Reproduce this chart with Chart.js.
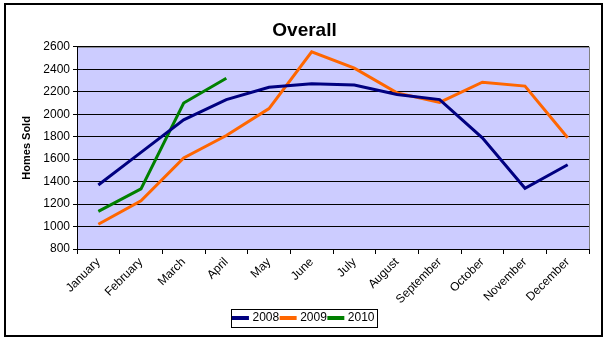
<!DOCTYPE html>
<html>
<head>
<meta charset="utf-8">
<script src="https://cdn.jsdelivr.net/npm/chart.js@4/dist/chart.umd.min.js"></script>
<style>
  html, body { margin: 0; padding: 0; background: #fff; }
  #wrap { position: relative; width: 607px; height: 340px; }
</style>
</head>
<body>
<div id="wrap"><canvas id="overallChart"></canvas></div>
<script>
// --- Data ---
const months = ['January', 'February', 'March', 'April', 'May', 'June',
                'July', 'August', 'September', 'October', 'November', 'December'];
const sold2008 = [1370, 1660, 1950, 2130, 2240, 2270, 2260, 2175, 2130, 1790, 1340, 1550];
const sold2009 = [1020, 1230, 1610, 1810, 2050, 2555, 2410, 2190, 2105, 2285, 2250, 1790];
const sold2010 = [1135, 1335, 2100, 2320];
const yTicks = [800, 1000, 1200, 1400, 1600, 1800, 2000, 2200, 2400, 2600];

const FONT = 'Arial, "Liberation Sans", sans-serif';

// fond du graphique + bordures
const frame = {
    id: 'frame',
    beforeDraw(chart) {
        const { ctx, chartArea: a } = chart;
        ctx.save();
        ctx.fillStyle = '#CCCCFF';
        ctx.fillRect(a.left, a.top, a.right - a.left, a.bottom - a.top);
        ctx.strokeStyle = '#808080';
        ctx.lineWidth = 1;
        ctx.strokeRect(a.left + 0.5, a.top + 0.5, a.right - a.left, a.bottom - a.top);
        ctx.restore();
    },
    afterDraw(chart) {
        const { ctx, legend } = chart;
        ctx.save();
        ctx.strokeStyle = '#000';
        ctx.lineWidth = 2;
        ctx.strokeRect(5, 4, 597, 332);
        // cadre autour des items de la légende
        const boxes = legend.legendHitBoxes;
        if (boxes && boxes.length) {
            const x0 = Math.min(...boxes.map(b => b.left)) - 3;
            const x1 = Math.max(...boxes.map(b => b.left + b.width)) + 3;
            const y0 = Math.min(...boxes.map(b => b.top)) - 3;
            const y1 = Math.max(...boxes.map(b => b.top + b.height)) + 3;
            ctx.lineWidth = 1;
            ctx.strokeRect(Math.round(x0) + 0.5, Math.round(y0) + 0.5, Math.round(x1 - x0), Math.round(y1 - y0));
        }
        ctx.restore();
    }
};

const ctx = document.getElementById('overallChart').getContext('2d');
const overallChart = new Chart(ctx, {
    type: 'line',
    data: {
        labels: months,
        datasets: [
            { label: '2008', data: sold2008, borderColor: '#000080', backgroundColor: '#000080' },
            { label: '2009', data: sold2009, borderColor: '#FF6600', backgroundColor: '#FF6600' },
            { label: '2010', data: sold2010, borderColor: '#008000', backgroundColor: '#008000' }
        ]
    },
    options: {
        responsive: true,
        maintainAspectRatio: false,
        animation: false,
        layout: { padding: { top: 0, right: 18, bottom: 6, left: 20 } },
        elements: {
            line: { borderWidth: 3, tension: 0 },
            point: { radius: 0 }
        },
        scales: {
            x: {
                offset: true,
                afterFit(s) { s.height = 60; },
                grid: { offset: true, drawOnChartArea: false, drawTicks: true, tickLength: 5, color: '#000' },
                border: { color: '#000', width: 1 },
                ticks: {
                    color: '#000', font: { family: FONT, size: 12 },
                    minRotation: 45, maxRotation: 45, autoSkip: false, padding: 1
                }
            },
            y: {
                min: 800, max: 2600,
                afterBuildTicks(s) { s.ticks = yTicks.map(v => ({ value: v })); },
                afterFit(s) { s.width = 57; },
                grid: { color: '#000', drawTicks: true, tickLength: 4 },
                border: { color: '#000', width: 1 },
                ticks: {
                    color: '#000', font: { family: FONT, size: 12 }, padding: 3,
                    callback: v => String(v)
                },
                title: {
                    display: true, text: 'Homes Sold', color: '#000',
                    font: { family: FONT, size: 11, weight: 'bold' }, padding: 0
                }
            }
        },
        plugins: {
            title: {
                display: true, text: 'Overall', color: '#000',
                font: { family: FONT, size: 19, weight: 'bold' },
                padding: { top: 19, bottom: 5 }
            },
            legend: {
                position: 'bottom',
                labels: {
                    color: '#000', font: { family: FONT, size: 12 },
                    usePointStyle: true, pointStyle: 'line', boxWidth: 24, boxHeight: 12, padding: 3,
                    generateLabels(chart) {
                        const items = Chart.defaults.plugins.legend.labels.generateLabels(chart);
                        items.forEach(it => { it.lineWidth = 4; });
                        return items;
                    }
                }
            },
            tooltip: { enabled: false }
        }
    },
    plugins: [frame]
});
</script>
</body>
</html>
